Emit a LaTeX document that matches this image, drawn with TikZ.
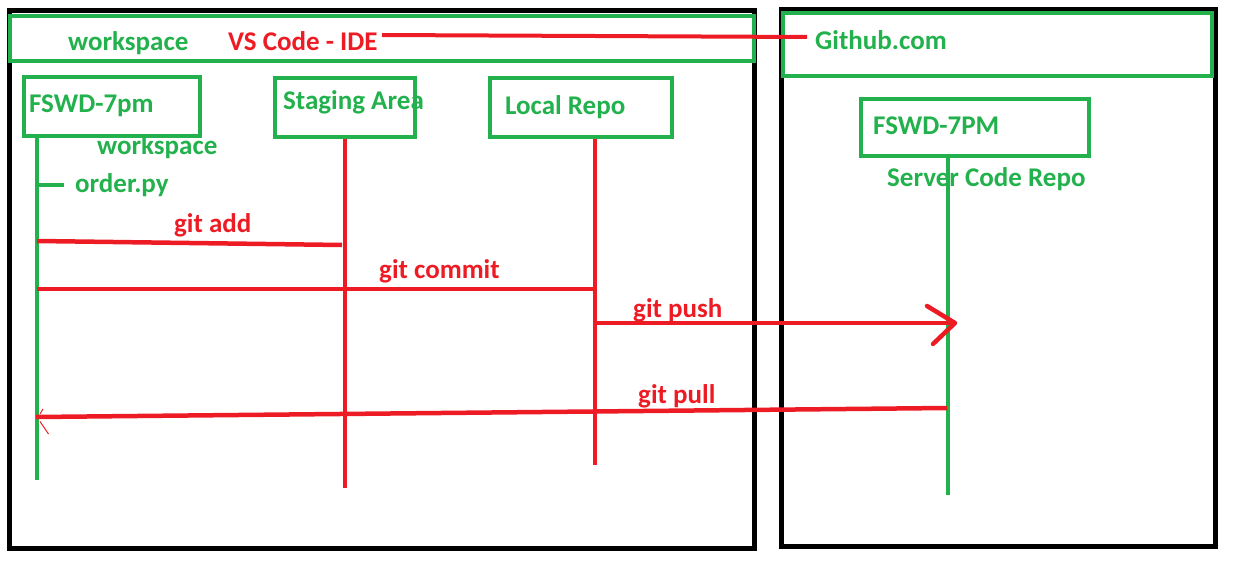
\documentclass[tikz,border=0pt]{standalone}
\usepackage{fontspec}
\setmainfont{Carlito}
\definecolor{pgreen}{HTML}{22B14C}
\definecolor{pred}{HTML}{ED1C24}
\tikzset{
  bbox/.style={draw=black, line width=5pt, inner sep=0pt, outer sep=0pt},
  gbox/.style={draw=pgreen, line width=4pt, inner sep=0pt, outer sep=0pt},
  gtxt/.style={text=pgreen, font=\fontsize{27}{31}\selectfont\bfseries, inner sep=0pt, anchor=base west},
  rtxt/.style={text=pred, font=\fontsize{27}{31}\selectfont\bfseries, inner sep=0pt, anchor=base west},
  rline/.style={draw=pred, line width=4.5pt},
  gline/.style={draw=pgreen, line width=4pt},
  thin arrow/.style={draw=pred, line width=1pt},
}
\begin{document}
\begin{tikzpicture}[x=1pt,y=-1pt]
\useasboundingbox (0,0) rectangle (1235,583);
% outer frames
\node[bbox, minimum width=745pt, minimum height=537pt] (ide) at (381.5,279.5) {};
\node[bbox, minimum width=434pt, minimum height=536pt] (server) at (998,278) {};
% header bars
\node[gbox, minimum width=744pt, minimum height=45pt] (idehead) at (382,38.5) {};
\node[gbox, minimum width=429pt, minimum height=63pt] (ghhead) at (997.5,44.5) {};
% participant boxes
\node[gbox, minimum width=176pt, minimum height=59pt] (fswd) at (112,106.5) {};
\node[gbox, minimum width=140pt, minimum height=59pt] (stage) at (345,107.5) {};
\node[gbox, minimum width=182pt, minimum height=59pt] (local) at (581,107.5) {};
\node[gbox, minimum width=228pt, minimum height=57pt] (remote) at (975,127.5) {};
% texts
\node[gtxt] (ws1) at (68,51) {workspace};
\node[rtxt] (vscode) at (228,51) {VS Code - IDE};
\node[gtxt] (github) at (815,50) {Github.com};
\node[gtxt] (fswdt) at (29,113) {FSWD-7pm};
\node[gtxt] (staget) at (283,110) {Staging Area};
\node[gtxt] (localt) at (505,115) {Local Repo};
\node[gtxt] (remotet) at (873,135) {FSWD-7PM};
\node[gtxt] (srvt) at (887,186) {Server Code Repo};
\node[gtxt] (ws2) at (97,155) {workspace};
\node[gtxt] (order) at (75,193) {order.py};
\node[rtxt] (addt) at (174,233) {git add};
\node[rtxt] (committ) at (379,278) {git commit};
\node[rtxt] (pusht) at (633,317) {git push};
\node[rtxt] (pullt) at (638,403) {git pull};
% coordinates
\coordinate (ideR) at (382,35);
\coordinate (ghL) at (807,37);
\coordinate (lf1top) at (37,138);
\coordinate (lf1bot) at (37,480);
\coordinate (lf2top) at (345,139);
\coordinate (lf2bot) at (345,488);
\coordinate (lf3top) at (595,139);
\coordinate (lf3bot) at (595,465);
\coordinate (lf4top) at (948,157);
\coordinate (lf4bot) at (948,495);
\coordinate (ord1) at (37,185);
\coordinate (ord2) at (64,185);
\coordinate (add1) at (37,241);
\coordinate (add2) at (342,245);
\coordinate (com1) at (37,289);
\coordinate (com2) at (595,289);
\coordinate (push1) at (595,323);
\coordinate (push2) at (955,323);
\coordinate (pushU) at (927,306);
\coordinate (pushD) at (933,344);
\coordinate (pull1) at (947,408);
\coordinate (pull2) at (36,417);
\coordinate (pullU1) at (40,414);
\coordinate (pullU2) at (43,409);
\coordinate (pullD1) at (40,421.5);
\coordinate (pullD2) at (48.5,434);
% header connector
\draw[rline, line width=4pt] (ideR) -- (ghL);
% lifelines
\draw[gline] (lf1top) -- (lf1bot);
\draw[rline, line width=4pt] (lf2top) -- (lf2bot);
\draw[rline, line width=4pt] (lf3top) -- (lf3bot);
\draw[gline] (lf4top) -- (lf4bot);
% messages
\draw[gline] (ord1) -- (ord2);
\draw[rline] (add1) -- (add2);
\draw[rline] (com1) -- (com2);
\draw[rline] (push1) -- (push2);
\draw[rline, line cap=round, line join=round] (pushU) -- (push2) -- (pushD);
\draw[rline] (pull1) -- (pull2);
\draw[thin arrow] (pullU1) -- (pullU2);
\draw[thin arrow] (pullD1) -- (pullD2);
\end{tikzpicture}
\end{document}
